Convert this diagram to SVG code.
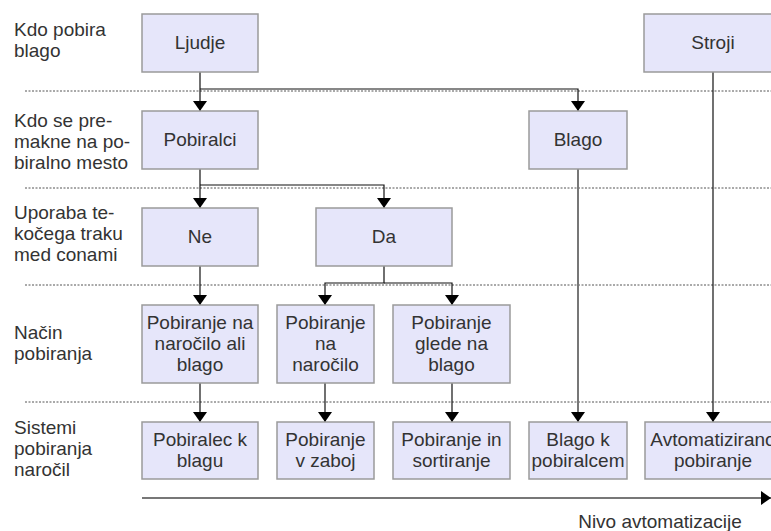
<svg xmlns="http://www.w3.org/2000/svg" width="771" height="531" viewBox="0 0 771 531">
<defs>
<style>
.box{fill:#e6e6fa;stroke:#9a9a9a;stroke-width:1.5}
.t{font-family:"Liberation Sans",Arial,sans-serif;font-size:19px;fill:#333;text-anchor:middle}
.l{font-family:"Liberation Sans",Arial,sans-serif;font-size:19px;fill:#333}
.dot{stroke:#555;stroke-width:1;stroke-dasharray:2,1.5;fill:none}
.c{stroke:#111;stroke-width:1.2;fill:none;marker-end:url(#ah)}
.cg{stroke:#777;stroke-width:2;fill:none;marker-end:url(#ah)}
</style>
<marker id="ah" viewBox="0 0 10 14" refX="10" refY="7" markerWidth="10" markerHeight="14" markerUnits="userSpaceOnUse" orient="auto">
<path d="M0,0 L10,7 L0,14 Z" fill="#000"/>
</marker>
</defs>
<rect width="771" height="531" fill="#fff"/>
<g id="separators">
<line class="dot" x1="25" y1="91" x2="771" y2="91"/>
<line class="dot" x1="25" y1="188" x2="771" y2="188"/>
<line class="dot" x1="25" y1="285" x2="771" y2="285"/>
<line class="dot" x1="25" y1="402" x2="771" y2="402"/>
</g>
<g id="labels">
<text class="l" x="14" y="36">Kdo pobira</text>
<text class="l" x="14" y="57">blago</text>
<text class="l" x="14" y="127">Kdo se pre-</text>
<text class="l" x="14" y="148">makne na po-</text>
<text class="l" x="14" y="169">biralno mesto</text>
<text class="l" x="14" y="219">Uporaba te-</text>
<text class="l" x="14" y="240">kočega traku</text>
<text class="l" x="14" y="261">med conami</text>
<text class="l" x="14" y="339">Način</text>
<text class="l" x="14" y="360">pobiranja</text>
<text class="l" x="14" y="434">Sistemi</text>
<text class="l" x="14" y="455">pobiranja</text>
<text class="l" x="14" y="476">naročil</text>
</g>
<g id="connectors">
<path class="c" d="M200,72 V111"/>
<path class="c" d="M200,89 H578 V111"/>
<path class="c" d="M200,169 V208"/>
<path class="c" d="M200,185 H384 V208"/>
<path class="c" d="M200,266 V305"/>
<path class="c" d="M384,266 V283 H325 V305"/>
<path class="c" d="M384,283 H452 V305"/>
<path class="c" d="M200,383 V422"/>
<path class="c" d="M325,383 V422"/>
<path class="c" d="M452,383 V422"/>
<path class="cg" d="M578,169 V422"/>
<path class="c" d="M713,72 V422"/>
<path class="cg" d="M142,498 H771"/>
</g>
<g id="n-ljudje"><rect class="box" x="142" y="14" width="116" height="58"/><text class="t" x="200" y="49">Ljudje</text></g>
<g id="n-stroji"><rect class="box" x="644" y="14" width="138" height="58"/><text class="t" x="713" y="49">Stroji</text></g>
<g id="n-pobiralci"><rect class="box" x="142" y="111" width="116" height="58"/><text class="t" x="200" y="146">Pobiralci</text></g>
<g id="n-blago"><rect class="box" x="529" y="111" width="98" height="58"/><text class="t" x="578" y="146">Blago</text></g>
<g id="n-ne"><rect class="box" x="142" y="208" width="116" height="58"/><text class="t" x="200" y="243">Ne</text></g>
<g id="n-da"><rect class="box" x="316" y="208" width="136" height="58"/><text class="t" x="384" y="243">Da</text></g>
<g id="n-nar-ali-blago"><rect class="box" x="142" y="305" width="116" height="78"/><text class="t" x="200" y="329">Pobiranje na</text><text class="t" x="200" y="350">naročilo ali</text><text class="t" x="200" y="371">blago</text></g>
<g id="n-na-narocilo"><rect class="box" x="277" y="305" width="97" height="78"/><text class="t" x="325.5" y="329">Pobiranje</text><text class="t" x="325.5" y="350">na</text><text class="t" x="325.5" y="371">naročilo</text></g>
<g id="n-glede-na-blago"><rect class="box" x="393" y="305" width="117" height="78"/><text class="t" x="451.5" y="329">Pobiranje</text><text class="t" x="451.5" y="350">glede na</text><text class="t" x="451.5" y="371">blago</text></g>
<g id="n-pobiralec-k-blagu"><rect class="box" x="142" y="422" width="116" height="57"/><text class="t" x="200" y="446">Pobiralec k</text><text class="t" x="200" y="467">blagu</text></g>
<g id="n-zaboj"><rect class="box" x="277" y="422" width="97" height="57"/><text class="t" x="325.5" y="446">Pobiranje</text><text class="t" x="325.5" y="467">v zaboj</text></g>
<g id="n-sortiranje"><rect class="box" x="393" y="422" width="117" height="57"/><text class="t" x="451.5" y="446">Pobiranje in</text><text class="t" x="451.5" y="467">sortiranje</text></g>
<g id="n-blago-k-pobiralcem"><rect class="box" x="529" y="422" width="98" height="57"/><text class="t" x="578" y="446">Blago k</text><text class="t" x="578" y="467">pobiralcem</text></g>
<g id="n-avtomatizirano"><rect class="box" x="645" y="422" width="137" height="57"/><text class="t" x="713" y="446">Avtomatizirano</text><text class="t" x="713" y="467">pobiranje</text></g>
<text class="t" x="660" y="528">Nivo avtomatizacije</text>
</svg>
